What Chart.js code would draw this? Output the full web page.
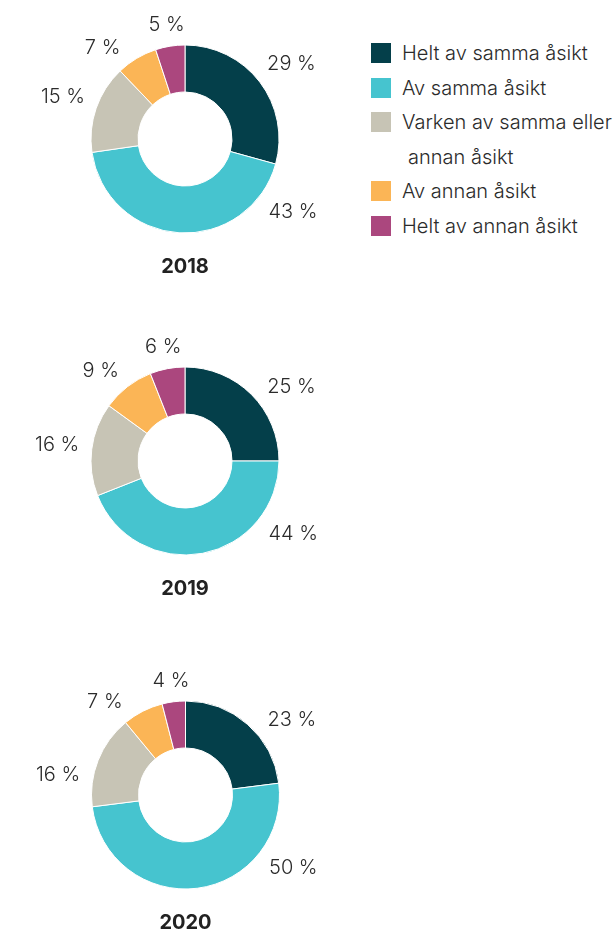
<!DOCTYPE html>
<html>
<head>
<meta charset="utf-8">
<script src="https://cdn.jsdelivr.net/npm/chart.js@4"></script>
<style>
    html, body { margin: 0; padding: 0; background: #fff; }
    body { width: 616px; height: 931px; position: relative; overflow: hidden; font-family: "Inter", sans-serif; }
    canvas { position: absolute; left: 0; }
    #legend { position: absolute; left: 371px; top: 36px; margin: 0; padding: 0; list-style: none; }
    #legend li { display: flex; align-items: flex-start; font-size: 20px; font-weight: 300; color: #2b2b2b; line-height: 34.5px; }
    #legend .box { width: 20px; height: 20px; margin-top: 7px; margin-right: 11px; flex: none; }
    #legend .txt span { display: block; white-space: nowrap; }
    #legend .txt span + span { padding-left: 6px; }
</style>
</head>
<body>
<canvas id="chart2018" width="370" height="300" style="top:-11px"></canvas>
<canvas id="chart2019" width="370" height="300" style="top:311px"></canvas>
<canvas id="chart2020" width="371" height="300" style="top:645px"></canvas>
<ul id="legend"></ul>

<script>
"use strict";

const categories = ["Helt av samma åsikt", "Av samma åsikt", "Varken av samma eller annan åsikt", "Av annan åsikt", "Helt av annan åsikt"];
const years = ["2018", "2019", "2020"];
const values2018 = [29, 43, 15, 7, 5];
const values2019 = [25, 44, 16, 9, 6];
const values2020 = [23, 50, 16, 7, 4];
const colors = ["#043f4a", "#46c4cf", "#c7c4b5", "#fbb556", "#ab477e"];

// etiketter runt ringen + årtal under
const ringLabels = {
    id: "ringLabels",
    afterDatasetsDraw(chart, args, opts) {
        const ctx = chart.ctx;
        const meta = chart.getDatasetMeta(0);
        const data = chart.data.datasets[0].data;
        const fixed = opts.angles || {};
        ctx.save();
        ctx.font = "300 20px Inter";
        ctx.fillStyle = "#2b2b2b";
        ctx.textAlign = "center";
        ctx.textBaseline = "middle";
        let cx = 0, cy = 0;
        meta.data.forEach((arc, i) => {
            const p = arc.getProps(["x", "y", "startAngle", "endAngle", "outerRadius"], true);
            cx = p.x;
            cy = p.y;
            let a = (p.startAngle + p.endAngle) / 2;
            // högersidan: håll etiketterna snett uppåt/nedåt, inte rakt under
            if (a < Math.PI * 0.6) {
                a = Math.max(-35 * Math.PI / 180, Math.min(34 * Math.PI / 180, a));
            }
            if (fixed[i] !== undefined) a = fixed[i] * Math.PI / 180;
            const text = data[i] + " %";
            const w = ctx.measureText(text).width;
            const d = p.outerRadius + 12 + Math.abs(Math.cos(a)) * w / 2 + Math.abs(Math.sin(a)) * 7;
            ctx.fillText(text, p.x + Math.cos(a) * d, p.y + Math.sin(a) * d);
        });
        ctx.font = "700 20px Inter";
        ctx.fillStyle = "#222";
        ctx.fillText(opts.year, cx, cy + 128);
        ctx.restore();
    },
};

function createRing(id, year, values, angles) {
    return new Chart(document.getElementById(id), {
        type: "doughnut",
        data: {
            labels: categories,
            datasets: [
                {
                    data: values,
                    backgroundColor: colors,
                    borderColor: "#fff",
                    borderWidth: 1,
                },
            ],
        },
        options: {
            responsive: false,
            animation: false,
            radius: 94,
            cutout: "50%",
            layout: { padding: 0 },
            plugins: {
                legend: { display: false },
                tooltip: { enabled: false },
                ringLabels: { year: year, angles: angles },
            },
        },
        plugins: [ringLabels],
    });
}

createRing("chart2018", years[0], values2018, { 3: 228 });
createRing("chart2019", years[1], values2019, { 3: 227 });
createRing("chart2020", years[2], values2020, { 2: 189, 3: 229 });

// legend
const legend = document.getElementById("legend");
categories.forEach((name, i) => {
    const li = document.createElement("li");
    const lines = name === "Varken av samma eller annan åsikt" ? ["Varken av samma eller", "annan åsikt"] : [name];
    li.innerHTML = `<div class="box" style="background:${colors[i]}"></div>
        <div class="txt">${lines.map((l) => `<span>${l}</span>`).join("")}</div>`;
    legend.appendChild(li);
});
</script>
</body>
</html>
